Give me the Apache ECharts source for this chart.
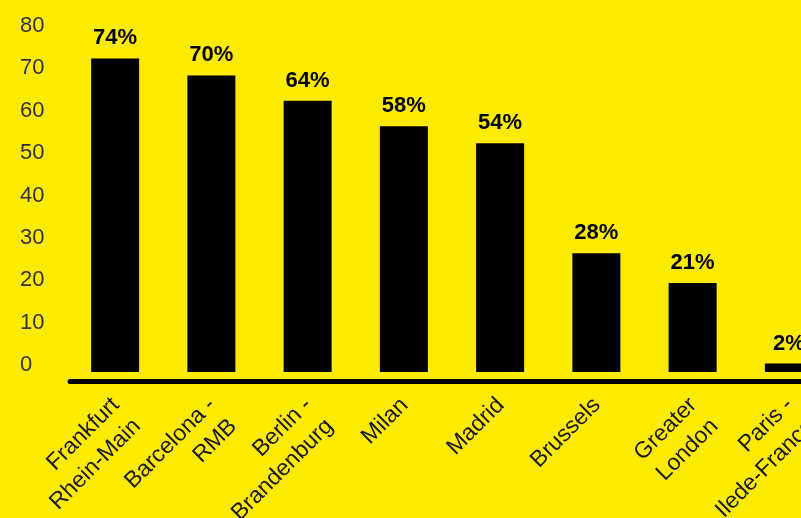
<!DOCTYPE html>
<html><head><meta charset="utf-8">
<script src="https://cdn.jsdelivr.net/npm/echarts@6/dist/echarts.min.js"></script>
<style>html,body{margin:0;padding:0;background:#ffeb00;overflow:hidden}#c{width:860px;height:560px}</style>
</head><body><div id="c"></div>
<script>
const categories = ['Frankfurt\nRhein-Main','Barcelona -\nRMB','Berlin -\nBrandenburg','Milan','Madrid','Brussels','Greater\nLondon','Paris -\nIlede-France'];
const values = [74, 70, 64, 58, 54, 28, 21, 2];
const yTicks = [0, 10, 20, 30, 40, 50, 60, 70, 80];

const font = '"Liberation Sans", Arial, Helvetica, sans-serif';
const chart = echarts.init(document.getElementById('c'));
chart.setOption({
  backgroundColor: '#ffeb00',
  animation: false,
  grid: [
    {left: 67, width: 770, top: 33, bottom: 188, containLabel: false},
    {left: 57, width: 770, top: 33, bottom: 188, containLabel: false},
    {left: 70, width: 770, top: 33, bottom: 188, containLabel: false}
  ],
  xAxis: [
    {type: 'category', gridIndex: 0, data: categories,
     axisLine: {show: false, onZero: false}, axisTick: {show: false}, axisLabel: {show: false}, splitLine: {show: false}},
    {type: 'category', gridIndex: 1, data: categories, offset: 9,
     axisLine: {show: false, onZero: false}, axisTick: {show: false}, splitLine: {show: false},
     axisLabel: {show: true, interval: 0, rotate: 45, margin: 10, color: '#1a1a1a',
       fontFamily: font, fontSize: 23, lineHeight: 30, align: 'right', verticalAlign: 'top'}},
    {type: 'category', gridIndex: 2, data: categories, offset: 9,
     axisLine: {show: true, onZero: false, lineStyle: {color: '#000', width: 5}},
     axisTick: {show: false}, axisLabel: {show: false}, splitLine: {show: false}}
  ],
  yAxis: [
    {type: 'value', gridIndex: 0, min: yTicks[0], max: yTicks[yTicks.length-1], interval: 10,
     axisLine: {show: false}, axisTick: {show: false}, splitLine: {show: false},
     axisLabel: {show: true, align: 'left', verticalAlign: 'bottom', lineHeight: 14, margin: 47,
       color: '#333', fontFamily: font, fontSize: 22}},
    {type: 'value', gridIndex: 1, min: 0, max: 80, show: false},
    {type: 'value', gridIndex: 2, min: 0, max: 80, show: false}
  ],
  series: [{
    type: 'bar', xAxisIndex: 0, yAxisIndex: 0, data: values, barWidth: 48,
    itemStyle: {color: '#000'},
    label: {show: true, position: 'top', distance: 9, formatter: '{c}%', color: '#000',
      fontFamily: font, fontWeight: 'bold', fontSize: 22}
  }]
});
</script></body></html>
